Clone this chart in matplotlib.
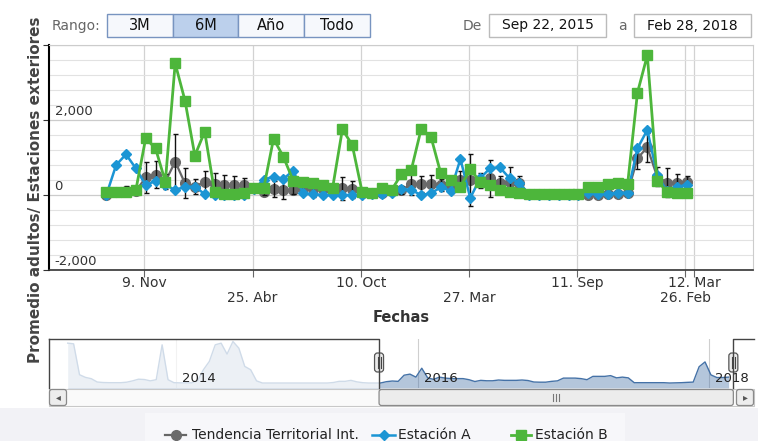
import matplotlib
matplotlib.use("Agg")
import matplotlib.pyplot as plt
import matplotlib.dates as mdates
from matplotlib.patches import Rectangle, FancyBboxPatch
from matplotlib.lines import Line2D
import numpy as np
import pandas as pd

W, H = 758, 441

# --- data -------------------------------------------------------------------
fechas = pd.date_range("2015-09-11", "2018-02-28", periods=60)

tendencia = [0, 80, 120, 100, 470, 535, 355, 890, 310, 220,
             355, 295, 265, 265, 265, 200, 90, 160, 135, 135,
             180, 160, 160, 160, 180, 150, 60, 50, 50, 100,
             130, 295, 295, 295, 265, 200, 400, 400, 400, 445,
             310, 355, 310, 20, 20, 20, 20, 20, 20, 0,
             10, 20, 40, 55, 980, 1270, 490, 330, 330, 355]
tendencia_err = [0, 80, 120, 60, 420, 360, 200, 750, 400, 200,
                 280, 280, 280, 250, 200, 100, 100, 210, 250, 120,
                 100, 200, 220, 100, 310, 220, 100, 50, 50, 50,
                 100, 300, 220, 250, 150, 150, 250, 690, 200, 500,
                 200, 380, 200, 0, 0, 0, 0, 0, 0, 0,
                 0, 0, 0, 0, 290, 380, 245, 380, 220, 150]
estacion_a = [0, 800, 1085, 710, 265, 375, 265, 135, 220, 220,
              25, 10, 10, 10, 10, 150, 410, 490, 430, 650,
              45, 20, 0, 0, 0, 0, 0, 30, 20, 60,
              160, 135, 0, 45, 205, 115, 960, -80, 445, 710,
              740, 445, 330, 0, 0, 0, 0, 0, 0, 45,
              30, 40, 60, 60, 1245, 1735, 535, 100, 220, 265]
estacion_b = [90, 80, 80, 130, 1510, 1245, 355, 3510, 2515, 1050,
              1690, 90, 40, 40, 60, 200, 180, 1500, 1020, 380,
              355, 330, 265, 180, 1750, 1335, 90, 45, 180, 135,
              550, 665, 1750, 1555, 580, 400, 220, 685, 355, 265,
              135, 90, 60, 40, 30, 30, 30, 30, 30, 220,
              220, 295, 310, 295, 2730, 3725, 380, 90, 60, 60]

# navigator history before the selected range
nav_hist = [2400, 2360, 500, 340, 260, 60, 30, 20, 20, 20,
            50, 130, 230, 210, 130, 200, 2300, 200, 20, 10,
            10, 10, 130, 800, 1300, 2300, 2400, 1740, 2500, 2100,
            1000, 800, 130, 0, 0, 0, 0, 0, 0, 0,
            0, 0, 0, 0, 0, 30, 100, 100, 160, 70,
            20, 0, 0]

tick_fechas = ["2015-11-09", "2016-04-25", "2016-10-10", "2017-03-27",
               "2017-09-11", "2018-02-26", "2018-03-12"]
tick_labels = ["9. Nov", "25. Abr", "10. Oct", "27. Mar", "11. Sep", "26. Feb", "12. Mar"]
tick_row = [0, 1, 0, 1, 0, 1, 0]

nav_tick_pos = [18.4, 59.4, 108.7]
nav_tick_labels = ["2014", "2016", "2018"]

rango_labels = ["3M", "6M", "Año", "Todo"]
rango_sel = 1

C_T = "#666666"
C_A = "#1b95d4"
C_B = "#4db63b"


def px_box(x0, y0, x1, y1):
    return [x0 / W, 1 - y1 / H, (x1 - x0) / W, (y1 - y0) / H]


fig = plt.figure(figsize=(W / 100, H / 100), dpi=100)
fig.patch.set_facecolor("white")

under = fig.add_axes([0, 0, 1, 1], zorder=-5)
under.set_xlim(0, W)
under.set_ylim(H, 0)
under.axis("off")
under.add_patch(Rectangle((0, 408), W, 33, color="#f2f2f6", lw=0))
under.add_patch(Rectangle((145, 413), 480, 28, color="#f7f7fa", lw=0))

# --- main chart ---------------------------------------------------------------
ax = fig.add_axes(px_box(49, 45, 753, 270))
x = mdates.date2num(fechas)
ax.set_xlim(mdates.date2num(pd.Timestamp("2015-06-14")),
            mdates.date2num(pd.Timestamp("2018-06-11")))
ax.set_ylim(-2000, 4000)
ax.set_yticks([-2000, 0, 2000, 4000])
ax.set_yticks(np.arange(-2000, 4001, 400), minor=True)
ax.grid(which="minor", axis="y", color="#e2e2e2", lw=0.8)
ax.grid(which="major", axis="y", color="#cccccc", lw=0.9)
ax.grid(which="major", axis="x", color="#d2d2d2", lw=0.9)
ax.set_axisbelow(True)
ax.tick_params(axis="y", which="both", labelleft=False)
ax.tick_params(axis="y", which="major", length=4, color="#333")
ax.tick_params(axis="y", which="minor", length=0)

tick_x = mdates.date2num(pd.to_datetime(tick_fechas))
ax.set_xticks(tick_x)
ax.tick_params(axis="x", length=5, color="#666", labelbottom=False)
for t, lab, r in zip(tick_x, tick_labels, tick_row):
    ax.annotate(lab, xy=(t, 0), xycoords=("data", "axes fraction"),
                xytext=(0, -9.5 - 11 * r), textcoords="offset points",
                ha="center", va="center", fontsize=10, color="#333")

for s in ("top", "right"):
    ax.spines[s].set_color("#cccccc")
    ax.spines[s].set_linewidth(0.8)
ax.spines["left"].set_color("black")
ax.spines["left"].set_linewidth(1.5)
ax.spines["bottom"].set_color("#333")
ax.spines["bottom"].set_linewidth(1.2)

for v in (-2000, 0, 2000):
    ax.annotate(f"{v:,}", xy=(0, v), xycoords=ax.get_yaxis_transform(),
                xytext=(4, 1.5), textcoords="offset points", ha="left",
                va="bottom", fontsize=9.5, color="#333")

ax.plot(x, tendencia, color=C_T, lw=1.6, marker="o", ms=7,
        mfc="#6a6a6a", mec="#6a6a6a", zorder=3)
ax.errorbar(x, tendencia, yerr=tendencia_err, fmt="none", ecolor="#111",
            elinewidth=1, capsize=1.8, capthick=1, zorder=3.5)
ax.plot(x, estacion_a, color=C_A, lw=1.8, marker="D", ms=5.5, mec=C_A,
        zorder=4)
ax.plot(x, estacion_b, color=C_B, lw=2, marker="s", ms=6.5, mec=C_B,
        zorder=5)

fig.text(401 / W, 1 - 318 / H, "Fechas", ha="center", va="center",
         fontsize=10.5, fontweight="bold", color="#333")
fig.text(36 / W, 1 - 190 / H, "Promedio adultos/ Estaciones exteriores",
         rotation=90, ha="center", va="center", fontsize=11,
         fontweight="bold", color="#444")

# --- navigator ----------------------------------------------------------------
nav_values = nav_hist + tendencia
n = np.arange(len(nav_values))
NX0, NX1 = -3.17, 116.3
sel_lo, sel_hi = len(nav_hist) - 0.24, len(nav_values) - 0.2

nav = fig.add_axes(px_box(49, 339, 754, 388))
nav.set_xlim(NX0, NX1)
nav.set_ylim(-300, 2650)
nav.axis("off")
for p in nav_tick_pos:
    nav.axvline(p, color="#cfcfcf", lw=0.8, zorder=1)
nav.fill_between(n, nav_values, -300, color="#4572A7", alpha=0.4, lw=0, zorder=2)
nav.plot(n, nav_values, color="#4572A7", lw=1, zorder=3)
nav.add_patch(Rectangle((NX0, -300), sel_lo - NX0, 2950, fc="white",
                        alpha=0.75, lw=0, zorder=4))
nav.add_patch(Rectangle((sel_hi, -300), NX1 - sel_hi, 2950, fc="white",
                        alpha=0.75, lw=0, zorder=4))
for p, lab in zip(nav_tick_pos, nav_tick_labels):
    nav.annotate(lab, xy=(p, 0.2), xycoords=("data", "axes fraction"),
                 xytext=(4, 0), textcoords="offset points", ha="left",
                 va="center", fontsize=9.5, color="#222", zorder=6)


def nav_px(v):
    return 49 + (v - NX0) / (NX1 - NX0) * 705


# --- overlay: ui widgets --------------------------------------------------------
ov = fig.add_axes([0, 0, 1, 1], zorder=10)
ov.set_xlim(0, W)
ov.set_ylim(H, 0)
ov.axis("off")

hx0, hx1 = nav_px(sel_lo), nav_px(sel_hi)
# outline
ov.plot([49, hx0, hx0], [339, 339, 388], color="#444", lw=1)
ov.plot([49, 49], [339, 388], color="#444", lw=1)
ov.plot([hx1, hx1, 754], [388, 339, 339], color="#444", lw=1)

# scrollbar
ov.add_patch(Rectangle((49, 389), 705, 17, fc="#fafafa", ec="#c8c8c8", lw=0.8))
for bx, tri in ((49, "◂"), (736, "▸")):
    ov.add_patch(FancyBboxPatch((bx + 0.5, 389.5), 17, 16,
                                boxstyle="round,pad=0,rounding_size=2.5",
                                fc="#ededed", ec="#8a8a8a", lw=0.9))
    ov.text(bx + 9, 397.5, tri, ha="center", va="center", fontsize=7,
            color="#555")
ov.add_patch(FancyBboxPatch((hx0, 389.5), hx1 - hx0, 16,
                            boxstyle="round,pad=0,rounding_size=2.5",
                            fc="#ececec", ec="#8a8a8a", lw=0.9))
cx = (hx0 + hx1) / 2
for dx in (-3, 0, 3):
    ov.plot([cx + dx, cx + dx], [394, 401], color="#777", lw=0.8)

# handles
for hx in (hx0, hx1):
    ov.add_patch(FancyBboxPatch((hx - 4.5, 353), 9, 19,
                                boxstyle="round,pad=0,rounding_size=3",
                                fc="#ebebeb", ec="#555", lw=0.9))
    for dx in (-1.5, 1.5):
        ov.plot([hx + dx, hx + dx], [357, 368], color="#444", lw=0.8)

# range selector
ov.text(100, 26, "Rango:", ha="right", va="center", fontsize=10, color="#666")
bw = 65.7
for k, lab in enumerate(rango_labels):
    bx = 107 + k * bw
    fc = "#bcd0ec" if k == rango_sel else "#f6f8fc"
    ov.add_patch(Rectangle((bx, 14), bw, 23, fc=fc, ec="#7894c0", lw=1))
    ov.text(bx + bw / 2, 25.5, lab, ha="center", va="center", fontsize=10.5,
            color="#111")

ov.text(482, 26, "De", ha="right", va="center", fontsize=10, color="#666")
ov.add_patch(Rectangle((489, 14), 117, 23, fc="white", ec="#bbbbbb", lw=1))
ov.text(547.5, 25.5, "Sep 22, 2015", ha="center", va="center", fontsize=10,
        color="#111")
ov.text(622, 26, "a", ha="center", va="center", fontsize=10, color="#666")
ov.add_patch(Rectangle((634, 14), 117, 23, fc="white", ec="#bbbbbb", lw=1))
ov.text(692.5, 25.5, "Feb 28, 2018", ha="center", va="center", fontsize=10,
        color="#111")

# legend
ly = 435
ov.add_line(Line2D([165, 186], [ly, ly], color=C_T, lw=1.6))
ov.add_line(Line2D([175.5], [ly], marker="o", ms=7, color="#6a6a6a"))
ov.text(192, ly, "Tendencia Territorial Int.", ha="left", va="center",
        fontsize=10, color="#222")
ov.add_line(Line2D([372, 395], [ly, ly], color=C_A, lw=1.8))
ov.add_line(Line2D([384], [ly], marker="D", ms=5.5, color=C_A))
ov.text(398, ly, "Estación A", ha="left", va="center", fontsize=10, color="#222")
ov.add_line(Line2D([511, 531], [ly, ly], color=C_B, lw=2))
ov.add_line(Line2D([521], [ly], marker="s", ms=6.5, color=C_B))
ov.text(535, ly, "Estación B", ha="left", va="center", fontsize=10, color="#222")

fig.savefig("out.png", dpi=100)
